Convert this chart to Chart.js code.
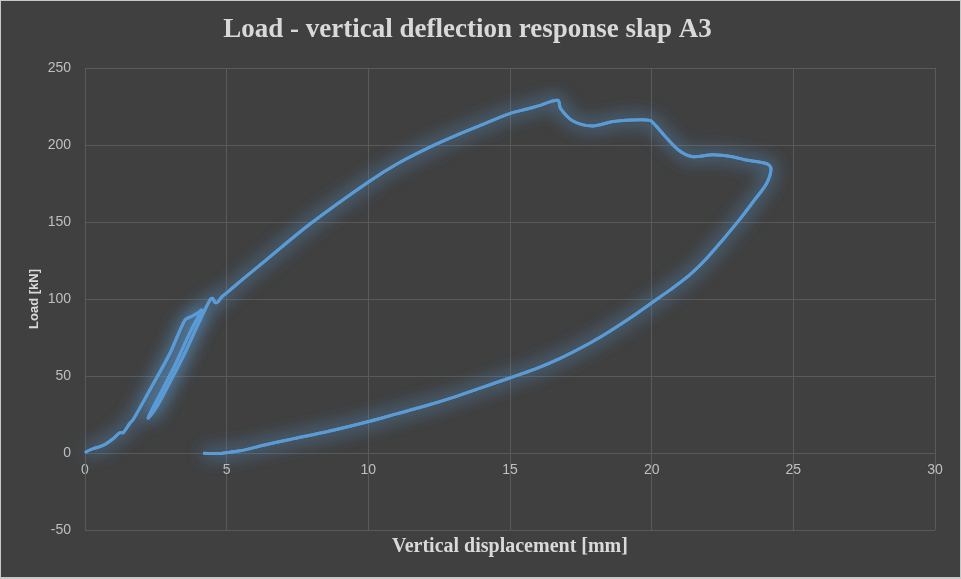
<!DOCTYPE html>
<html>
<head>
<meta charset="utf-8">
<title>Load - vertical deflection response slap A3</title>
<script src="https://cdn.jsdelivr.net/npm/chart.js@4/dist/chart.umd.min.js"></script>
<style>
    html, body { margin: 0; padding: 0; background: #404040; }
    canvas { display: block; }
</style>
</head>
<body>
<canvas id="slabChart" width="961" height="579"></canvas>
<script>
// Measured response of slab A3: vertical displacement [mm] vs load [kN]
const displacementMm = [
    // first loading
    0, 0.04, 0.29, 0.5, 0.71, 1.0, 1.23, 1.35, 1.59, 1.7, 2.23, 3.0, 3.53, 3.76, 4.0, 4.11,
    // small unload / reload cycle
    3.7, 3.2, 2.7, 2.23,
    2.5, 3.0, 3.5, 4.0, 4.41, 4.5, 4.6, 4.7, 4.82,
    // main loading up to peak and softening
    5.0, 5.53, 6.41, 7.93, 9.99, 11.1, 12.28, 13.1, 14.0, 14.99, 15.6, 16.0, 16.69,
    16.78, 17.22, 17.92, 18.63, 19.3, 19.81, 19.98, 20.51, 20.98, 21.45, 22.15, 22.8, 23.33,
    24.04, 24.21,
    // unloading
    24.06, 23.6, 23.1, 22.5, 21.92, 21.3, 20.65, 19.98, 19.2, 18.51, 17.81, 16.75, 15.9,
    14.99, 14.0, 13.11, 12.0, 11.0, 10.05, 8.6, 7.23, 6.3, 5.47, 4.9, 4.76, 4.17
];
const loadKn = [
    0, 0.8, 2.8, 4.0, 5.6, 9.4, 13.1, 13.2, 19.5, 21.7, 39.0, 64.8, 86.4, 88.6, 91.2, 92.8,
    78, 58, 40, 22.8,
    29, 46, 64, 84, 99.3, 100.4, 97.6, 98.3, 101.2,
    104.0, 112.2, 125.6, 148.5, 175.8, 188.6, 199.6, 206.3, 213.1, 220.4, 223.4, 225.4, 229.0,
    223.8, 215.6, 212.4, 215.2, 216.2, 216.3, 215.6, 204.9, 196.3, 192.4, 193.7, 192.6, 190.2,
    188.0, 185.1,
    175.2, 163.6, 151.5, 138.2, 126.0, 115.0, 105.9, 97.2, 87.1, 78.9, 71.3, 61.3, 54.6,
    48.7, 42.5, 36.8, 30.5, 25.4, 20.6, 14.1, 8.8, 5.0, 1.4, 0.0, -0.3, -0.2
];
const xTicks = [0, 5, 10, 15, 20, 25, 30];
const yTicks = [-50, 0, 50, 100, 150, 200, 250];

const points = displacementMm.map((x, i) => ({ x: x, y: loadKn[i] }));

const LINE_BLUE = '#5B9BD5';
const GRID = '#5a5a5a';
const LABEL = '#bfbfbf';
const TITLE = '#d9d9d9';

// dark panel with a thin light frame
const panelPlugin = {
    id: 'panel',
    beforeDraw(chart) {
        const { ctx, width, height } = chart;
        ctx.save();
        ctx.fillStyle = '#404040';
        ctx.fillRect(0, 0, width, height);
        ctx.strokeStyle = '#c8c8c8';
        ctx.lineWidth = 2;
        ctx.strokeRect(0, 0, width, height - 1);
        ctx.restore();
    }
};

// soft glow around the curve: one extra shadowed pass under the normal one
const glowPlugin = {
    id: 'glow',
    beforeDatasetDraw(chart, args) {
        const ctx = chart.ctx;
        ctx.save();
        ctx.shadowColor = 'rgba(91, 155, 213, 0.9)';
        ctx.shadowBlur = 18;
        args.meta.dataset.draw(ctx, chart.chartArea);
    },
    afterDatasetDraw(chart) {
        chart.ctx.restore();
    }
};

new Chart(document.getElementById('slabChart').getContext('2d'), {
    type: 'scatter',
    data: {
        datasets: [{
            data: points,
            showLine: true,
            borderColor: LINE_BLUE,
            borderWidth: 3,
            pointRadius: 0,
            tension: 0.3,
            fill: false
        }]
    },
    options: {
        responsive: false,
        devicePixelRatio: 1,
        animation: false,
        layout: { padding: { left: 0, right: 26, top: 0, bottom: 0 } },
        plugins: {
            legend: { display: false },
            tooltip: { enabled: false },
            title: {
                display: true,
                text: 'Load - vertical deflection response slap A3',
                color: TITLE,
                font: { family: 'Liberation Serif', size: 27, weight: 'bold' },
                padding: { top: 14, bottom: 21.6 }
            }
        },
        scales: {
            x: {
                type: 'linear',
                position: { y: 0 },
                min: xTicks[0],
                max: xTicks[xTicks.length - 1],
                afterBuildTicks: s => { s.ticks = xTicks.map(v => ({ value: v })); },
                grid: { color: GRID, drawTicks: false },
                border: { color: GRID },
                ticks: {
                    color: LABEL,
                    padding: 9,
                    font: { family: 'Liberation Sans', size: 14 }
                }
            },
            xTitle: {
                type: 'linear',
                axis: 'x',
                position: 'bottom',
                min: 0,
                max: 30,
                grid: { display: false },
                border: { display: false },
                ticks: { display: false },
                afterFit: s => { s.height = 49; },
                title: {
                    display: true,
                    text: 'Vertical displacement [mm]',
                    color: TITLE,
                    font: { family: 'Liberation Serif', size: 20, weight: 'bold' },
                    padding: { top: 0, bottom: 20 }
                }
            },
            y: {
                type: 'linear',
                min: yTicks[0],
                max: yTicks[yTicks.length - 1],
                afterBuildTicks: s => { s.ticks = yTicks.map(v => ({ value: v })); },
                afterFit: s => { s.width = 85; },
                grid: { color: GRID, drawTicks: false },
                border: { color: GRID },
                ticks: {
                    color: LABEL,
                    padding: 14,
                    font: { family: 'Liberation Sans', size: 14 }
                },
                title: {
                    display: true,
                    text: 'Load [kN]',
                    color: TITLE,
                    font: { family: 'Liberation Sans', size: 13, weight: 'bold' },
                    padding: { top: 27, bottom: 0 }
                }
            }
        }
    },
    plugins: [panelPlugin, glowPlugin]
});
</script>
</body>
</html>
